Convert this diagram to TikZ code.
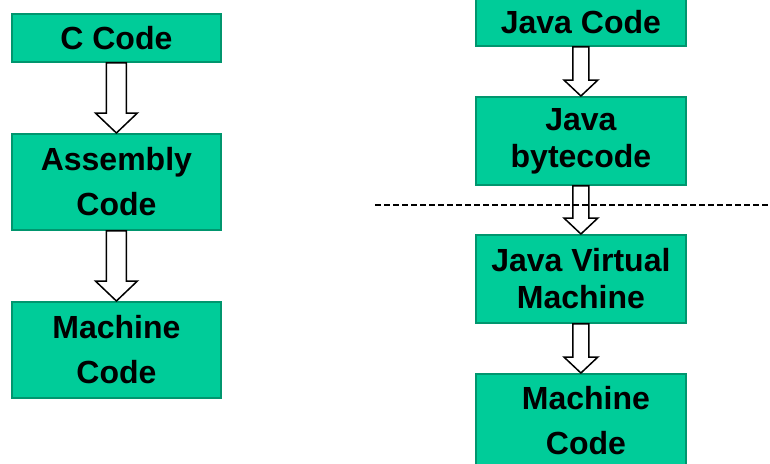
\documentclass[tikz,border=0pt]{standalone}
\usepackage{fontspec}
\setmainfont{Liberation Sans}
\usetikzlibrary{calc}
\definecolor{boxfill}{RGB}{0,204,153}
\definecolor{boxline}{RGB}{0,150,110}
\tikzset{
  codebox/.style={draw=boxline, line width=1.8pt, fill=boxfill, rectangle, anchor=north west,
    inner sep=0pt, align=center, font=\bfseries\fontsize{32}{45}\selectfont},
  tightbox/.style={codebox, font=\bfseries\fontsize{32}{37}\selectfont},
  blockarrow/.style={draw=black, line width=1.5pt, fill=white, line join=miter},
  sepline/.style={draw=black, line width=1.2pt, dash pattern=on 6pt off 3pt}
}
\newcommand{\hollowarrow}[5]{%
  \path[blockarrow] let \p1=(#1.south), \p2=(#2.north) in
    (\x1-#3,\y1) -- (\x1-#3,\y2+#5) -- (\x1-#4,\y2+#5) -- (\x1,\y2)
    -- (\x1+#4,\y2+#5) -- (\x1+#3,\y2+#5) -- (\x1+#3,\y1) -- cycle;}
\begin{document}
\begin{tikzpicture}[x=1pt,y=-1pt]
\useasboundingbox (0,0) rectangle (770,463);
% left column
\node[codebox, minimum width=209pt, minimum height=48pt] (cc) at (11,13) {C Code};
\node[codebox, minimum width=209pt, minimum height=96pt] (asm) at (11,133) {Assembly\\Code};
\node[codebox, minimum width=209pt, minimum height=96pt] (mcl) at (11,301) {Machine\\Code};
% right column
\node[codebox, minimum width=210pt, minimum height=47pt] (jc) at (475,-2) {Java Code};
\node[tightbox, minimum width=210pt, minimum height=88pt] (jb) at (475,96) {Java\\bytecode};
\node[tightbox, minimum width=210pt, minimum height=88pt] (jvm) at (475,234) {Java Virtual\\Machine};
\node[codebox, minimum width=210pt, minimum height=94pt] (mcr) at (475,373) {\hspace*{10pt}Machine\\\hspace*{10pt}Code};
% arrows
\hollowarrow{cc}{asm}{10pt}{21pt}{20pt}
\hollowarrow{asm}{mcl}{10pt}{21pt}{20pt}
\hollowarrow{jc}{jb}{8pt}{17pt}{16pt}
\hollowarrow{jb}{jvm}{8pt}{17pt}{16pt}
\hollowarrow{jvm}{mcr}{8pt}{17pt}{16pt}
% separator
\coordinate (sepL) at (375,205);
\coordinate (sepR) at (770,205);
\draw[sepline] (sepL) -- (sepR);
\end{tikzpicture}
\end{document}
